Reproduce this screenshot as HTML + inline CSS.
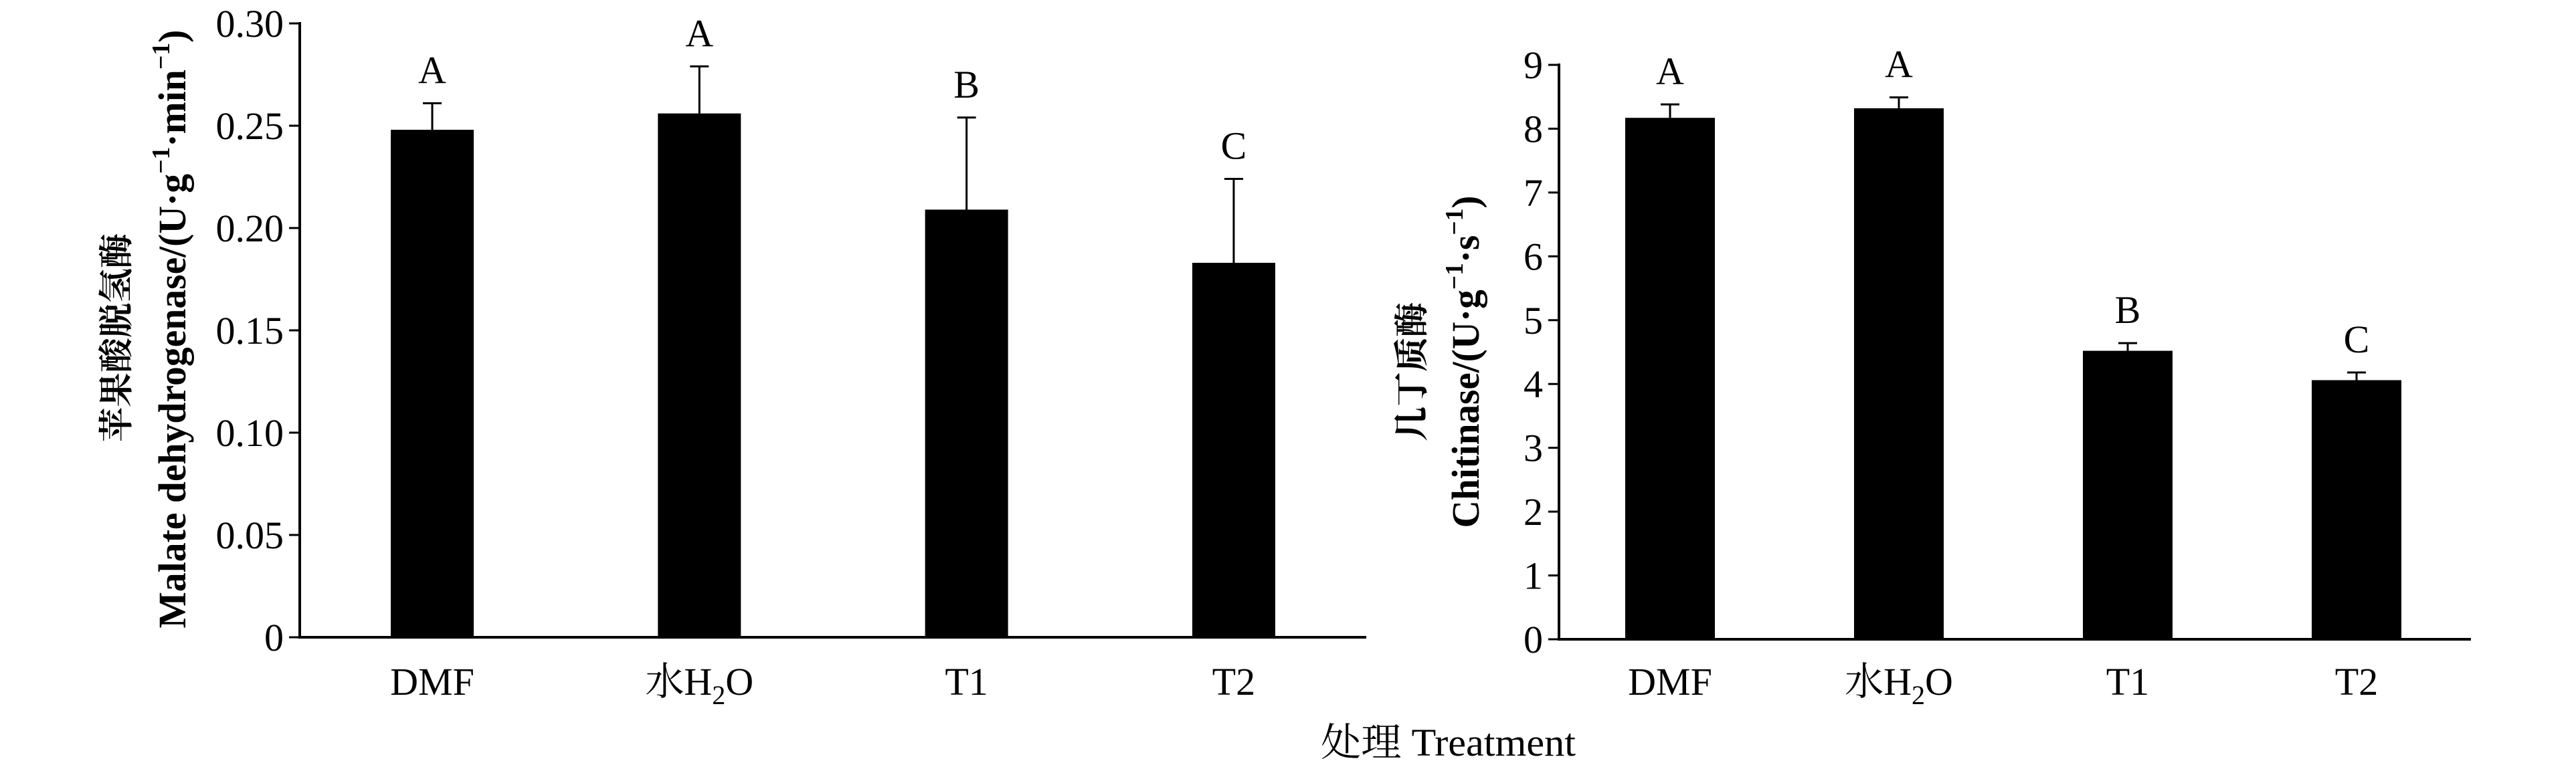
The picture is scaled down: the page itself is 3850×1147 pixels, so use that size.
<!DOCTYPE html>
<html><head><meta charset="utf-8"><style>
html,body{margin:0;padding:0;background:#fff;}
svg{display:block;}
text{font-family:"Liberation Serif","Noto Serif CJK SC",serif;fill:#000;}
</style></head><body>
<svg id="fig" width="3850" height="1147" viewBox="0 0 3850 1147" xmlns="http://www.w3.org/2000/svg">
<g id="left"></g>
<g id="right"></g>
<text transform="translate(192,505) rotate(-90)" text-anchor="middle" font-size="52" font-weight="bold" style="font-family:'Noto Serif CJK SC',serif">苹果酸脱氢酶</text>
<text transform="translate(277,492) rotate(-90)" text-anchor="middle" font-size="58" font-weight="bold" textLength="895" lengthAdjust="spacingAndGlyphs">Malate dehydrogenase/(U·g<tspan font-size="38" dy="-24">−1</tspan><tspan dy="24">·min</tspan><tspan font-size="38" dy="-24">−1</tspan><tspan dy="24">)</tspan></text>
<text transform="translate(2128,556) rotate(-90)" text-anchor="middle" font-size="52" font-weight="bold" style="font-family:'Noto Serif CJK SC',serif">几丁质酶</text>
<text transform="translate(2210,541) rotate(-90)" text-anchor="middle" font-size="58" font-weight="bold" textLength="497" lengthAdjust="spacingAndGlyphs">Chitinase/(U·g<tspan font-size="38" dy="-24">−1</tspan><tspan dy="24">·s</tspan><tspan font-size="38" dy="-24">−1</tspan><tspan dy="24">)</tspan></text>
<text x="1974" y="1130" font-size="58" textLength="381" lengthAdjust="spacingAndGlyphs">处理 Treatment</text>
</svg>
<script>
var categories = ["DMF", "水H2O", "T1", "T2"];
var malateValues = [0.248, 0.256, 0.209, 0.183];
var malateErrTop = [0.261, 0.279, 0.254, 0.224];
var malateLetters = ["A", "A", "B", "C"];
var malateTicks = [0, 0.05, 0.10, 0.15, 0.20, 0.25, 0.30];
var malateTickLabels = ["0", "0.05", "0.10", "0.15", "0.20", "0.25", "0.30"];
var chitValues = [8.17, 8.32, 4.52, 4.06];
var chitErrTop = [8.38, 8.49, 4.64, 4.18];
var chitLetters = ["A", "A", "B", "C"];
var chitTicks = [0, 1, 2, 3, 4, 5, 6, 7, 8, 9];
var chitTickLabels = ["0", "1", "2", "3", "4", "5", "6", "7", "8", "9"];

var NS = "http://www.w3.org/2000/svg";
function mk(parent, tag, attrs) {
  var e = document.createElementNS(NS, tag);
  for (var k in attrs) e.setAttribute(k, attrs[k]);
  parent.appendChild(e);
  return e;
}
function drawChart(g, cfg, vals, errs, letters, ticks, tickLabels, prefix) {
  function y(v) { return cfg.y0 - (v - cfg.min) / (cfg.max - cfg.min) * (cfg.y0 - cfg.yTop); }
  function x(i) { return cfg.xFirst + i * cfg.step; }
  // bars
  for (var i = 0; i < vals.length; i++) {
    var cx = x(i);
    var r = mk(g, "rect", {x: cx - cfg.bw / 2, y: y(vals[i]), width: cfg.bw, height: cfg.y0 - y(vals[i]), fill: "#000"});
    
    
    var el = mk(g, "line", {x1: cx, x2: cx, y1: y(vals[i]), y2: y(errs[i]), stroke: "#000", "stroke-width": 3});
    
    
    var cap = mk(g, "line", {x1: cx - 14, x2: cx + 14, y1: y(errs[i]), y2: y(errs[i]), stroke: "#000", "stroke-width": 3});
    
    
    var lt = mk(g, "text", {x: cx, y: y(errs[i]) - 30, "text-anchor": "middle", "font-size": 58});
    lt.textContent = letters[i];
    
    
    var cl = mk(g, "text", {x: cx, y: 1039, "text-anchor": "middle", "font-size": 58});
    if (categories[i].indexOf("H2O") >= 0) {
      cl.innerHTML = '水H<tspan font-size="40" dy="14">2</tspan><tspan dy="-14">O</tspan>';
    } else {
      cl.textContent = categories[i];
    }
    
    
  }
  // axes
  var ya = mk(g, "line", {x1: cfg.ax, x2: cfg.ax, y1: cfg.yTop - 2, y2: cfg.y0 + 2, stroke: "#000", "stroke-width": 4});
  
  
  var xa = mk(g, "line", {x1: cfg.ax - 2, x2: cfg.xEnd, y1: cfg.y0, y2: cfg.y0, stroke: "#000", "stroke-width": 4});
  
  
  for (var j = 0; j < ticks.length; j++) {
    var ty = y(ticks[j]);
    var t = mk(g, "line", {x1: cfg.ax - 16, x2: cfg.ax, y1: ty, y2: ty, stroke: "#000", "stroke-width": 3});
    
    
    var tl = mk(g, "text", {x: cfg.ax - 24, y: ty + 20, "text-anchor": "end", "font-size": 58});
    tl.textContent = tickLabels[j];
    
    
  }
}
drawChart(document.getElementById("left"),
  {ax: 448, y0: 953, yTop: 35, min: 0, max: 0.30, xFirst: 646, step: 399.3, bw: 124, xEnd: 2042},
  malateValues, malateErrTop, malateLetters, malateTicks, malateTickLabels, "malate");
drawChart(document.getElementById("right"),
  {ax: 2330, y0: 956, yTop: 97, min: 0, max: 9, xFirst: 2496, step: 342, bw: 134, xEnd: 3693},
  chitValues, chitErrTop, chitLetters, chitTicks, chitTickLabels, "chitinase");
</script>
</body></html>
